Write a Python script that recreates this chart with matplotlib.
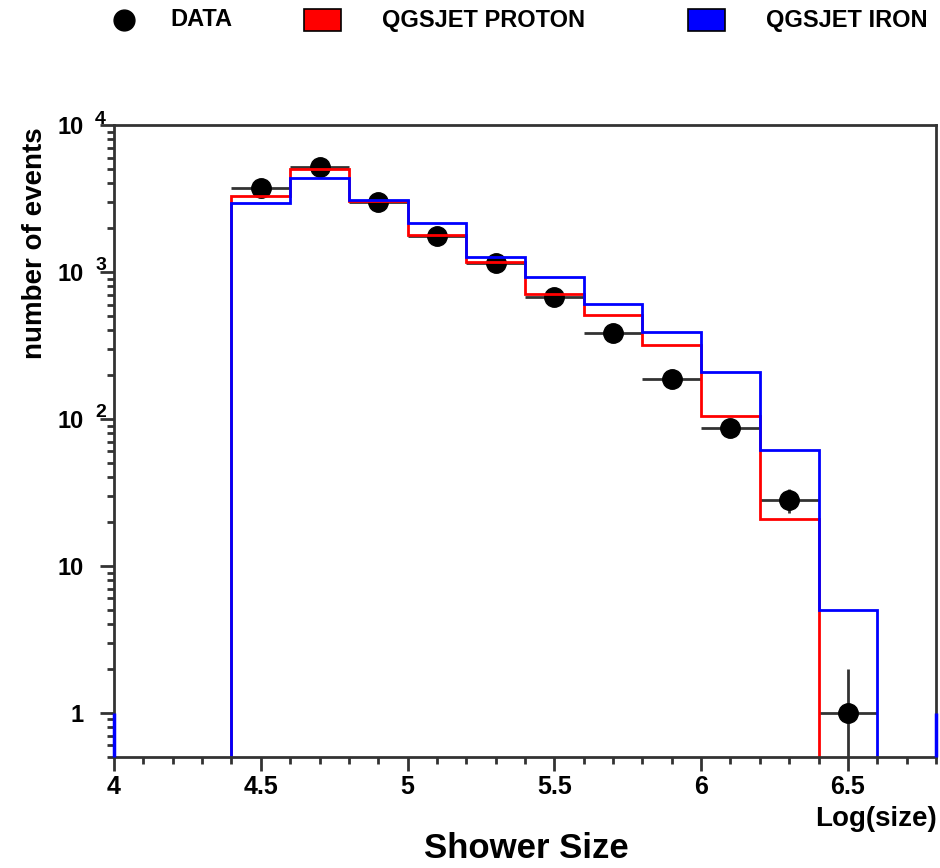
import matplotlib
matplotlib.use("Agg")
import matplotlib.pyplot as plt
import matplotlib.transforms as mtransforms
from matplotlib.patches import Rectangle
from matplotlib.lines import Line2D
from matplotlib.ticker import MultipleLocator, FixedLocator, LogLocator, NullFormatter
import numpy as np

plt.rcParams['font.family'] = ['Liberation Sans', 'DejaVu Sans']

# ---- data ----
edges = [4.0, 4.2, 4.4, 4.6, 4.8, 5.0, 5.2, 5.4, 5.6, 5.8, 6.0, 6.2, 6.4, 6.6, 6.8]
proton = [0, 0, 3300, 5000, 3050, 1790, 1160, 710, 510, 316, 105, 20.8, 0, 0]
iron = [0, 0, 2930, 4380, 3080, 2140, 1260, 930, 605, 393, 210, 61.5, 5.0, 0]
data_x = [4.5, 4.7, 4.9, 5.1, 5.3, 5.5, 5.7, 5.9, 6.1, 6.3, 6.5]
data_y = [3740, 5150, 2980, 1750, 1146, 679, 383, 186, 87, 28, 1]
x_ticks = [4, 4.5, 5, 5.5, 6, 6.5]
x_tick_labels = ["4", "4.5", "5", "5.5", "6", "6.5"]
y_ticks = [1, 10, 100, 1000, 10000]
y_base = ["1", "10", "10", "10", "10"]
y_exp = ["", "", "2", "3", "4"]
legend_labels = ["DATA", "QGSJET PROTON", "QGSJET IRON"]

RED = "#ff0000"
BLUE = "#0000ff"
DARK = "#333333"

fig = plt.figure(figsize=(9.4, 8.68), dpi=100)
ax = fig.add_axes([114/940, 1-757/868, (936-114)/940, (757-125)/868])
ymin, ymax = 0.5, 1e4
ax.set_xlim(4.0, 6.8)
ax.set_yscale("log")
ax.set_ylim(ymin, ymax)

# data points
dy = np.array(data_y, dtype=float)
err = np.sqrt(dy)
lower = np.minimum(err, dy * 0.9999)
ax.errorbar(data_x, dy, xerr=0.1, yerr=[lower, err], fmt="o", color="black",
            ecolor=DARK, elinewidth=2, capsize=0, markersize=14, zorder=2)

# histograms
floor = ymin * 1e-3
for vals, col in [(proton, RED), (iron, BLUE)]:
    v = np.array(vals, dtype=float)
    v = np.where(v > 0, v, floor)
    ax.stairs(v, edges, baseline=None, color=col, linewidth=2, zorder=3)

# ROOT-style edge marks of iron histogram at frame borders
ax.vlines([edges[0], edges[-1]], ymin, 1, color=BLUE, linewidth=2.5, zorder=5, clip_on=False)

for s in ax.spines.values():
    s.set_linewidth(2)
    s.set_color(DARK)
    s.set_zorder(4)

ax.xaxis.set_major_locator(FixedLocator(x_ticks))
ax.xaxis.set_minor_locator(MultipleLocator(0.1))
ax.set_xticklabels(x_tick_labels, fontsize=18, fontweight="bold")
ax.yaxis.set_major_locator(FixedLocator(y_ticks))
ax.yaxis.set_minor_locator(LogLocator(base=10, subs=np.arange(2, 10)))
ax.yaxis.set_minor_formatter(NullFormatter())
ax.set_yticklabels([""] * len(y_ticks))
ax.tick_params(which="both", direction="out", width=2, color=DARK, top=False, right=False)
ax.tick_params(which="major", length=10)
ax.tick_params(which="minor", length=5)
ax.tick_params(axis="x", which="major", pad=3)

# y tick labels 10^n
btr = mtransforms.blended_transform_factory(ax.transAxes, ax.transData)
for yt, b, e in zip(y_ticks, y_base, y_exp):
    ax.text(-0.037, yt, b, transform=mtransforms.offset_copy(btr, fig=fig, x=0, y=-3, units="dots"),
            ha="right", va="center", fontsize=17, fontweight="bold")
    if e:
        ax.text(-0.023, yt, e, transform=mtransforms.offset_copy(btr, fig=fig, x=0, y=6, units="dots"),
                ha="left", va="center", fontsize=14, fontweight="bold")

# axis labels
fig.text(35/940, 1-243/868, "number of events", rotation=90, ha="center", va="center",
         fontsize=20, fontweight="bold")
fig.text(526/940, 1-849/868, "Shower Size", ha="center", va="center", fontsize=25, fontweight="bold")
fig.text(937/940, 1-819/868, "Log(size)", ha="right", va="center", fontsize=20, fontweight="bold")

# legend
ly = 1 - 20/868
fig.add_artist(Line2D([124/940], [ly], marker="o", markersize=15, color="black",
                      linestyle="none", transform=fig.transFigure))
fig.text(170/940, ly, legend_labels[0], ha="left", va="center", fontsize=17, fontweight="bold")
for x0, col, lab, tx in [(304, RED, legend_labels[1], 382), (688, BLUE, legend_labels[2], 766)]:
    fig.add_artist(Rectangle((x0/940, ly - 11/868), 37/940, 22/868, facecolor=col,
                             edgecolor="black", linewidth=1.2, transform=fig.transFigure))
    fig.text(tx/940, ly, lab, ha="left", va="center", fontsize=17, fontweight="bold")

fig.savefig("out.png", dpi=100)
